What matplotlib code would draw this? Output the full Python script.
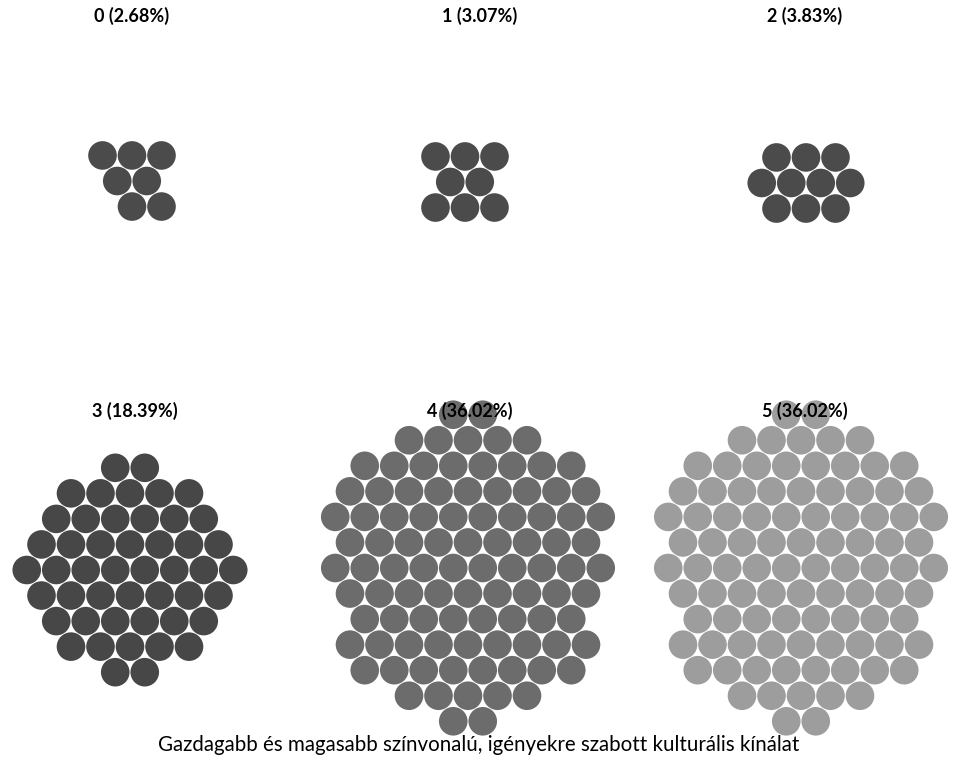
import matplotlib

matplotlib.use("Agg")
import matplotlib.pyplot as plt
import numpy as np
from matplotlib.collections import PatchCollection
from matplotlib.patches import Circle

# data: number of dots per cluster
groups = ["0", "1", "2", "3", "4", "5"]
counts = [7, 8, 10, 48, 94, 94]
colors = ["#4b4b4b", "#4b4b4b", "#4b4b4b", "#474747", "#6c6c6c", "#9d9d9d"]
caption = "Gazdagabb és magasabb színvonalú, igényekre szabott kulturális kínálat"

# layout (pixel space of the 960x759 figure)
W, H = 960, 759
centers = [(132, 181), (465, 182), (806, 183), (130, 570), (468, 568), (801, 568)]
squash = [1.0, 1.0, 1.0, 1.0, 0.9, 0.9]
title_pos = [(132, 16), (480, 16), (805, 16), (135, 411), (470, 411), (805, 411)]
PITCH = 29.5
RADIUS = 14.3


def hex_pack(n, pitch, s=1.0):
    """Pick the n hex-lattice cells closest to a point between two cells."""
    dy = pitch * np.sqrt(3) / 2
    pts = []
    for j in range(-15, 16):
        for i in range(-15, 16):
            pts.append(((i + 0.5 * (j % 2)) * pitch, j * dy))
    pts = np.array(pts)
    rel = pts - np.array([0.5 * pitch, 0.0])
    dist = np.round(np.hypot(rel[:, 0], rel[:, 1] * s), 4)
    ang = np.arctan2(rel[:, 1], rel[:, 0])
    order = np.lexsort((ang, dist))
    sel = pts[order[:n]]
    sel = sel - (sel.min(axis=0) + sel.max(axis=0)) / 2
    return sel


total = sum(counts)

fig = plt.figure(figsize=(W / 100, H / 100), dpi=100)
ax = fig.add_axes([0, 0, 1, 1])
ax.set_xlim(0, W)
ax.set_ylim(H, 0)
ax.set_aspect("equal")
ax.axis("off")

for k, n in enumerate(counts):
    pos = hex_pack(n, PITCH, squash[k]) + np.array(centers[k])
    patches = [Circle((x, y), RADIUS) for x, y in pos]
    ax.add_collection(PatchCollection(patches, facecolor=colors[k], edgecolor="none", zorder=1))
    pct = 100 * n / total
    tx, ty = title_pos[k]
    ax.text(tx, ty, f"{groups[k]} ({pct:.2f}%)", ha="center", va="center",
            fontsize=13, fontweight="bold", family=["Lato", "DejaVu Sans"], zorder=3)

ax.text(479, 745, caption, ha="center", va="center", fontsize=14.8,
        family=["Lato", "DejaVu Sans"], zorder=3)

fig.savefig("out.png", dpi=100)
